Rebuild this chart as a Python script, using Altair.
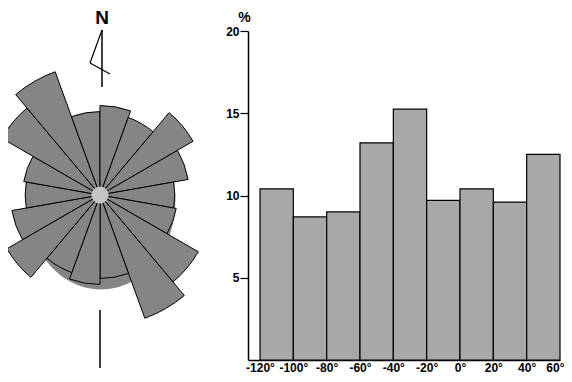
import math
import altair as alt
import pandas as pd

# ---- data ----
bin_start = [-120, -100, -80, -60, -40, -20, 0, 20, 40]
bin_end = [-100, -80, -60, -40, -20, 0, 20, 40, 60]
percent = [10.4, 8.7, 9.0, 13.2, 15.25, 9.7, 10.4, 9.6, 12.5]
y_ticks = [5, 10, 15, 20]
x_ticks = [-120, -100, -80, -60, -40, -20, 0, 20, 40, 60]
hub_pct = [1.0]

# ---- tables ----
hist_df = pd.DataFrame({"a0": bin_start, "a1": bin_end, "v": percent,
                        "base": [0] * len(percent)})

rows = []
for s, e, v in zip(bin_start, bin_end, percent):
    for off in (0, 180):
        a0 = (s + off) % 360
        rows.append({"a0": a0, "a1": a0 + (e - s), "v": v})
rose_df = pd.DataFrame(rows)
hub_df = pd.DataFrame({"a0": [0], "a1": [360], "v": hub_pct})
one = pd.DataFrame({"k": [0]})

W, H = 556, 366
PLOT_L, PLOT_R, PLOT_T, PLOT_B = 240, 552, 23, 352
cx, cy = 92, 187
theta_scale = alt.Scale(domain=[0, 360], range=[0, 2 * math.pi])
radius_scale = alt.Scale(type="linear", domain=[0, 20], range=[0, 172], zero=True)
FILL_ROSE = "#858585"


def arc_layer(df, **mk):
    return alt.Chart(df).mark_arc(**mk).encode(
        theta=alt.Theta("a0:Q", stack=None, scale=theta_scale),
        theta2="a1:Q",
        radius=alt.Radius("v:Q", scale=radius_scale),
        x=alt.value(cx),
        y=alt.value(cy),
    )


# slightly oval background disc of the rose diagram
ellipse_path = "M -0.84 0 A 0.84 1 0 1 0 0.84 0 A 0.84 1 0 1 0 -0.84 0 Z"
disc = alt.Chart(one).mark_point(
    shape=ellipse_path, filled=True, fill=FILL_ROSE, opacity=1, strokeWidth=0,
    size=177 * 177).encode(x=alt.value(93), y=alt.value(193))

petals = arc_layer(rose_df, fill=FILL_ROSE, stroke="black", strokeWidth=1)
hub = arc_layer(hub_df, fill="#c4c4c4", strokeWidth=0)

north_line = alt.Chart(one).mark_rule(color="black", strokeWidth=1.5).encode(
    x=alt.value(94), x2=alt.value(94), y=alt.value(22), y2=alt.value(79))
half1 = alt.Chart(one).mark_rule(color="black", strokeWidth=1.2).encode(
    x=alt.value(94), x2=alt.value(82), y=alt.value(22), y2=alt.value(55))
half2 = alt.Chart(one).mark_rule(color="black", strokeWidth=1.2).encode(
    x=alt.value(82), x2=alt.value(102), y=alt.value(55), y2=alt.value(66))
south_line = alt.Chart(one).mark_rule(color="black", strokeWidth=1.5).encode(
    x=alt.value(92), x2=alt.value(92), y=alt.value(302), y2=alt.value(360))
n_text = alt.Chart(one).mark_text(
    text="N", font="Liberation Sans", fontWeight="bold", fontSize=19,
    color="black", baseline="alphabetic", align="center").encode(
    x=alt.value(94), y=alt.value(16))

is60 = "datum.value == 60"
bars = alt.Chart(hist_df).mark_bar(fill="#a8a8a8", stroke="black", strokeWidth=1.2).encode(
    x=alt.X("a0:Q",
            scale=alt.Scale(domain=[-127.2, 60], range=[PLOT_L, PLOT_R], nice=False, zero=False),
            axis=alt.Axis(values=x_ticks, labelExpr="datum.value + '°'", ticks=False,
                          labelPadding=2, title=None, grid=False, domainColor="black",
                          domainWidth=1.5, labelFlush=False, labelOverlap=False,
                          offset=-(H - PLOT_B), labelFontSize=12,
                          labelAlign={"condition": {"test": is60, "value": "right"},
                                      "value": "center"},
                          labelOffset={"condition": {"test": is60, "value": 4},
                                       "value": 0})),
    x2="a1:Q",
    y=alt.Y("v:Q", scale=alt.Scale(domain=[0, 20], range=[PLOT_B, PLOT_T], nice=False),
            axis=alt.Axis(values=y_ticks, tickSize=8, tickColor="black", tickWidth=1.2,
                          grid=False, domainColor="black", domainWidth=1.5,
                          offset=-PLOT_L, labelPadding=1, labelFontSize=12,
                          title="%", titleAngle=0, titleX=-4, titleY=9,
                          titleAlign="center", titleBaseline="middle", titleFontSize=14,
                          titleFontWeight="bold", titleFont="Liberation Sans",
                          titleColor="black")),
    y2="base:Q",
)

chart = alt.layer(
    disc, petals, hub, north_line, half1, half2, south_line, n_text, bars
).properties(
    width=W, height=H, padding=0, background="white",
    autosize=alt.AutoSizeParams(type="none"),
).configure_view(stroke=None).configure_axis(
    labelFont="Liberation Sans", labelFontWeight="bold", labelColor="black"
)

chart.save("out.html", embed_options={"renderer": "svg", "actions": False})
